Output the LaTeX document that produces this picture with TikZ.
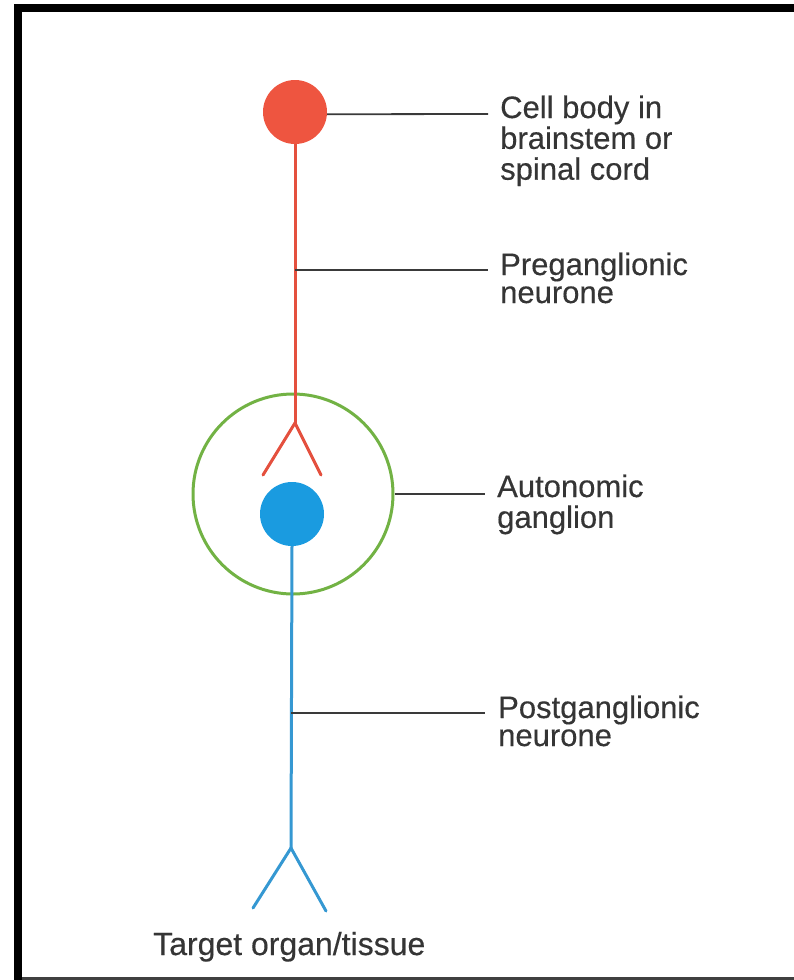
\documentclass[tikz,border=0pt]{standalone}
\usepackage{fontspec}
\setmainfont{Liberation Sans}[FakeBold=0.35]
\definecolor{nred}{HTML}{EE5540}
\definecolor{nredline}{HTML}{E4503E}
\definecolor{nblue}{HTML}{1A9BE0}
\definecolor{nblueline}{HTML}{3598D2}
\definecolor{ngreen}{HTML}{72B244}
\definecolor{ntext}{HTML}{353535}
\definecolor{nlead}{HTML}{3A3A3A}
\begin{document}
\begin{tikzpicture}[x=1pt,y=-1pt,
  soma/.style={circle, inner sep=0pt, minimum size=64pt},
  redaxon/.style={draw=nredline, line width=3pt},
  blueaxon/.style={draw=nblueline, line width=3pt},
  leader/.style={draw=nlead, line width=1.8pt},
  lbl/.style={inner sep=0pt, anchor=base west, text=ntext, font=\fontsize{31}{28}\selectfont}
]
\useasboundingbox (0,0) rectangle (794,980);
% frame
\fill[black] (14,4) rectangle (794,12);
\fill[black] (14,4) rectangle (22,980);
\fill[black!75] (22,977) rectangle (794,979.5);

% ganglion
\node[circle, draw=ngreen, line width=3pt, inner sep=0pt, minimum size=200pt] (gang) at (293,494) {};

% preganglionic neurone
\node[soma, fill=nred] (cell) at (295,112) {};
\coordinate (rfork) at (295,423);
\coordinate (rl) at (263,475);
\coordinate (rr) at (321,475);
\draw[redaxon] (cell.south) -- (rfork);
\draw[redaxon, line cap=round] (rl) -- (rfork) -- (rr);

% postganglionic neurone
\node[soma, fill=nblue] (post) at (292,514) {};
\coordinate (bfork) at (291,848);
\coordinate (bl) at (253,908);
\coordinate (br) at (326,911);
\draw[blueaxon] (post.south) -- (bfork);
\draw[blueaxon, line cap=round] (bl) -- (bfork) -- (br);

% leaders
\coordinate (l1) at (488,114);
\coordinate (l2) at (488,270);
\coordinate (l3) at (485,494);
\coordinate (l4) at (485,713);
\draw[leader] (cell.-4) -- (l1);
\draw[leader] (rfork |- l2) -- (l2);
\draw[leader] (gang.east) -- (l3);
\draw[leader] (bfork |- l4) -- (l4);

% labels
\node[lbl] (t1) at (500,118) {\begin{tabular}[t]{@{}l@{}}Cell body in\\brainstem or\\spinal cord\end{tabular}};
\node[lbl] (t2) at (500,275) {\begin{tabular}[t]{@{}l@{}}Preganglionic\\neurone\end{tabular}};
\node[lbl] (t3) at (497,497) {\begin{tabular}[t]{@{}l@{}}Autonomic\\ganglion\end{tabular}};
\node[lbl] (t4) at (498,718) {\begin{tabular}[t]{@{}l@{}}Postganglionic\\neurone\end{tabular}};
\node[lbl, font=\fontsize{32}{28}\selectfont] (t5) at (153,955) {Target organ/tissue};
\end{tikzpicture}
\end{document}
